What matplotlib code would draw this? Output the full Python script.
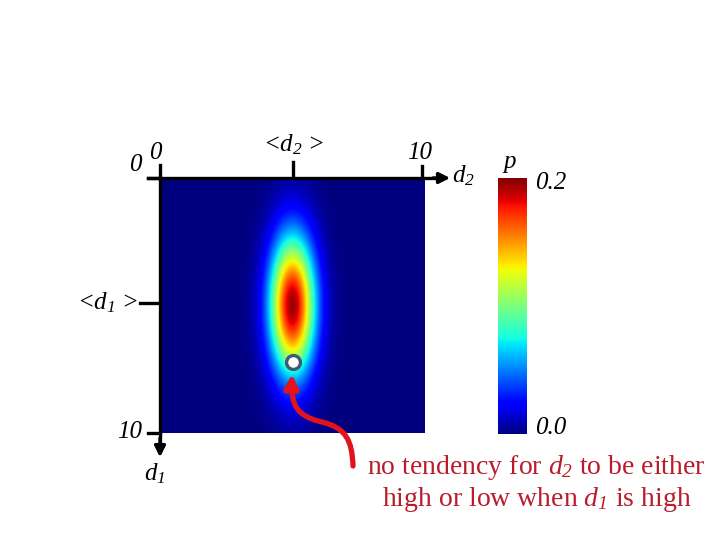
import numpy as np
import matplotlib
matplotlib.use("Agg")
import matplotlib.pyplot as plt
from matplotlib.patches import FancyArrowPatch
from matplotlib.path import Path

plt.rcParams['font.family'] = ['Liberation Serif', 'DejaVu Serif']
plt.rcParams['mathtext.fontset'] = 'custom'
plt.rcParams['mathtext.it'] = 'Liberation Serif:italic'
plt.rcParams['mathtext.rm'] = 'Liberation Serif:italic'

# density surface p(d1, d2): narrow in d2, wide in d1
mean_d2 = 5.0
mean_d1 = 5.0
sd_d2 = 0.6
sd_d1 = 1.9
peak_p = 0.195
p_range = [0.0, 0.2]

# highlighted point (high d1)
point_d2 = [5.0]
point_d1 = [7.2]

x_ticks = [0, 5.0, 9.88]
x_tick_len = [0.5, 0.63, 0.47]
x_labels = ['0', '<$d_2$ >', '10']
x_label_pos = [(-0.19, -0.98), (5.05, -1.3), (9.8, -0.98)]

y_ticks = [0, 4.9, 10]
y_tick_len = [0.45, 0.75, 0.45]
y_labels = ['0', '<$d_1$ >', '10']
y_label_pos = [(-0.68, -0.5), (-0.83, 4.9), (-0.68, 9.95)]

d2 = np.linspace(0, 10, 400)
d1 = np.linspace(0, 10, 400)
G2, G1 = np.meshgrid(d2, d1)
p = peak_p * np.exp(-0.5 * ((G2 - mean_d2) / sd_d2) ** 2
                    - 0.5 * ((G1 - mean_d1) / sd_d1) ** 2)

fig = plt.figure(figsize=(7.2, 5.4), dpi=100)
ax = fig.add_axes([160 / 720, 1 - 433 / 540, 265 / 720, 255 / 540])
im = ax.imshow(p, cmap='jet', vmin=p_range[0], vmax=p_range[1],
               extent=[0, 10, 10, 0], aspect='auto', interpolation='bilinear')
ax.set_xlim(0, 10)
ax.set_ylim(10, 0)
ax.axis('off')

ax.plot(point_d2, point_d1, 'o', ms=10, mfc='white', mec='#3d5a7a', mew=2.4, zorder=5)

lab = dict(fontsize=18, style='italic', color='k')

# top axis (d2) with arrow
ax.plot([-0.45, 10.4], [0, 0], color='k', lw=2.4, clip_on=False)
ax.annotate('', xy=(10.95, 0), xytext=(10.3, 0), annotation_clip=False,
            arrowprops=dict(arrowstyle='-|>', color='k', lw=2.4,
                            mutation_scale=16, shrinkA=0, shrinkB=0))
ax.text(11.45, -0.1, '$d_2$', ha='center', va='center', **lab)
for xt, tl in zip(x_ticks, x_tick_len):
    ax.plot([xt, xt], [0, -tl], color='k', lw=2.4, clip_on=False)
for xl, (lx, ly) in zip(x_labels, x_label_pos):
    ax.text(lx, ly, xl, ha='center', va='center', **lab)

# left axis (d1) with arrow
ax.plot([0, 0], [0, 10.3], color='k', lw=2.4, clip_on=False)
ax.annotate('', xy=(0, 10.95), xytext=(0, 10.2), annotation_clip=False,
            arrowprops=dict(arrowstyle='-|>', color='k', lw=2.4,
                            mutation_scale=16, shrinkA=0, shrinkB=0))
ax.text(-0.2, 11.6, '$d_1$', ha='center', va='center', **lab)
for yt, tl in zip(y_ticks, y_tick_len):
    ax.plot([-tl, 0], [yt, yt], color='k', lw=2.4, clip_on=False)
for yl, (lx, ly) in zip(y_labels, y_label_pos):
    ax.text(lx, ly, yl, ha='right', va='center', **lab)

# colorbar
cax = fig.add_axes([498 / 720, 1 - 434 / 540, 29 / 720, 256 / 540])
cb = fig.colorbar(im, cax=cax)
cb.set_ticks([])
cb.outline.set_visible(False)
fig.text(510 / 720, 1 - 162 / 540, 'p', ha='center', va='center', **lab)
fig.text(551 / 720, 1 - 183 / 540, '0.2', ha='center', va='center', **lab)
fig.text(551 / 720, 1 - 428 / 540, '0.0', ha='center', va='center', **lab)

# annotation overlay in pixel coordinates
ov = fig.add_axes([0, 0, 1, 1], zorder=10)
ov.set_xlim(0, 720)
ov.set_ylim(540, 0)
ov.axis('off')
ov.patch.set_alpha(0)

verts = [(353, 466), (352, 440), (346, 428), (322, 422),
         (296, 416), (291, 405), (292, 374)]
codes = [Path.MOVETO, Path.CURVE4, Path.CURVE4, Path.CURVE4,
         Path.CURVE4, Path.CURVE4, Path.CURVE4]
arrow = FancyArrowPatch(path=Path(verts, codes), arrowstyle='-|>',
                        mutation_scale=20, lw=3.8, color='#e3131b')
ov.add_patch(arrow)

red = '#b91c2b'
ov.text(536, 467, 'no tendency for $d_2$ to be either', ha='center', va='center',
        fontsize=20, color=red)
ov.text(537, 500, 'high or low when $d_1$ is high', ha='center', va='center',
        fontsize=20, color=red)

fig.savefig('out.png', dpi=100)
